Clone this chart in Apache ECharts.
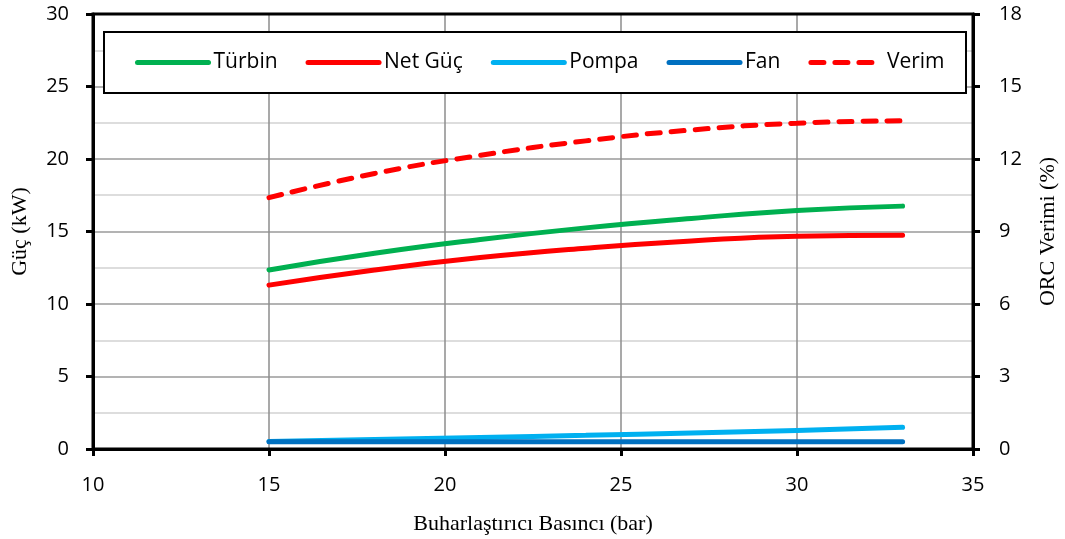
<!DOCTYPE html>
<html>
<head>
<meta charset="utf-8">
<script src="https://cdn.jsdelivr.net/npm/echarts@6/dist/echarts.min.js"></script>
<style>html,body{margin:0;padding:0;background:#fff}#c{width:1065px;height:539px}</style>
</head>
<body>
<div id="c"></div>
<script>
const pressure = [15, 18, 21, 24, 27, 30, 33];
const turbin = [12.35, 13.5, 14.45, 15.25, 15.9, 16.45, 16.75];
const netGuc = [11.3, 12.35, 13.2, 13.85, 14.35, 14.68, 14.75];
const pompa = [0.52, 0.66, 0.8, 0.94, 1.1, 1.28, 1.5];
const fan = [0.5, 0.5, 0.5, 0.5, 0.5, 0.5, 0.5];
const verim = [10.4, 11.4, 12.15, 12.75, 13.2, 13.48, 13.58];
const names = ['Türbin', 'Net Güç', 'Pompa', 'Fan', 'Verim'];

const pair = (ys) => pressure.map((x, i) => [x, ys[i]]);
const labelFont = {fontFamily: 'Open Sans', fontSize: 20, color: '#000'};
const serif = {fontFamily: 'Liberation Serif', fontSize: 22, color: '#000'};

function line(name, data, color, yIdx, dashed) {
  return {
    name, type: 'line', data: pair(data), yAxisIndex: yIdx, smooth: true,
    showSymbol: false, symbol: 'none',
    lineStyle: {color, width: 5, type: dashed ? [13, 11] : 'solid', cap: 'round'},
    itemStyle: {color}
  };
}

const chart = echarts.init(document.getElementById('c'));
chart.setOption({
  animation: false,
  grid: {left: 93, right: 92, top: 14, bottom: 90, show: true, borderColor: '#000', borderWidth: 3, z: 5,
         containLabel: false, outerBoundsMode: 'none'},
  graphic: [{
    type: 'rect', left: 103, top: 31, z: 50,
    shape: {width: 862, height: 61},
    style: {fill: '#fff', stroke: '#000', lineWidth: 2}
  }],
  legend: {
    data: names, left: 135, top: 52, z: 60,
    padding: 0, itemGap: 28, itemWidth: 71, itemHeight: 12,
    lineStyle: {width: 5},
    itemStyle: {opacity: 0},
    textStyle: {fontFamily: 'Open Sans', fontSize: 21, color: '#000'}
  },
  xAxis: {
    type: 'value', min: 10, max: 35, interval: 5,
    name: 'Buharlaştırıcı Basıncı (bar)', nameLocation: 'middle', nameGap: 64, nameTextStyle: serif,
    axisLine: {show: true, lineStyle: {color: '#000', width: 3}},
    axisTick: {show: true, length: 7, lineStyle: {color: '#000', width: 3}},
    axisLabel: Object.assign({margin: 26}, labelFont),
    splitLine: {show: true, lineStyle: {color: '#8c8c8c', width: 1.5}}
  },
  yAxis: [{
    type: 'value', min: 0, max: 30, interval: 5,
    name: 'Güç (kW)', nameLocation: 'middle', nameGap: 62, nameTextStyle: serif,
    axisLine: {show: true, lineStyle: {color: '#000', width: 3}},
    axisTick: {show: true, length: 7, lineStyle: {color: '#000', width: 3}},
    axisLabel: Object.assign({margin: 24}, labelFont),
    splitLine: {show: true, lineStyle: {color: '#9a9a9a', width: 1.5}},
    minorTick: {show: false, splitNumber: 2},
    minorSplitLine: {show: true, lineStyle: {color: '#d2d2d2', width: 1.5}}
  }, {
    type: 'value', min: 0, max: 18, interval: 3, position: 'right',
    name: 'ORC Verimi (%)', nameLocation: 'middle', nameGap: 64, nameTextStyle: serif,
    axisLine: {show: true, lineStyle: {color: '#000', width: 3}},
    axisTick: {show: true, length: 7, lineStyle: {color: '#000', width: 3}},
    axisLabel: Object.assign({margin: 26}, labelFont),
    splitLine: {show: false}
  }],
  series: [
    line('Türbin', turbin, '#00B050', 0, false),
    line('Net Güç', netGuc, '#FF0000', 0, false),
    line('Pompa', pompa, '#00B0F0', 0, false),
    line('Fan', fan, '#0070C0', 0, false),
    line('Verim', verim, '#FF0000', 1, true)
  ]
});
</script>
</body>
</html>
